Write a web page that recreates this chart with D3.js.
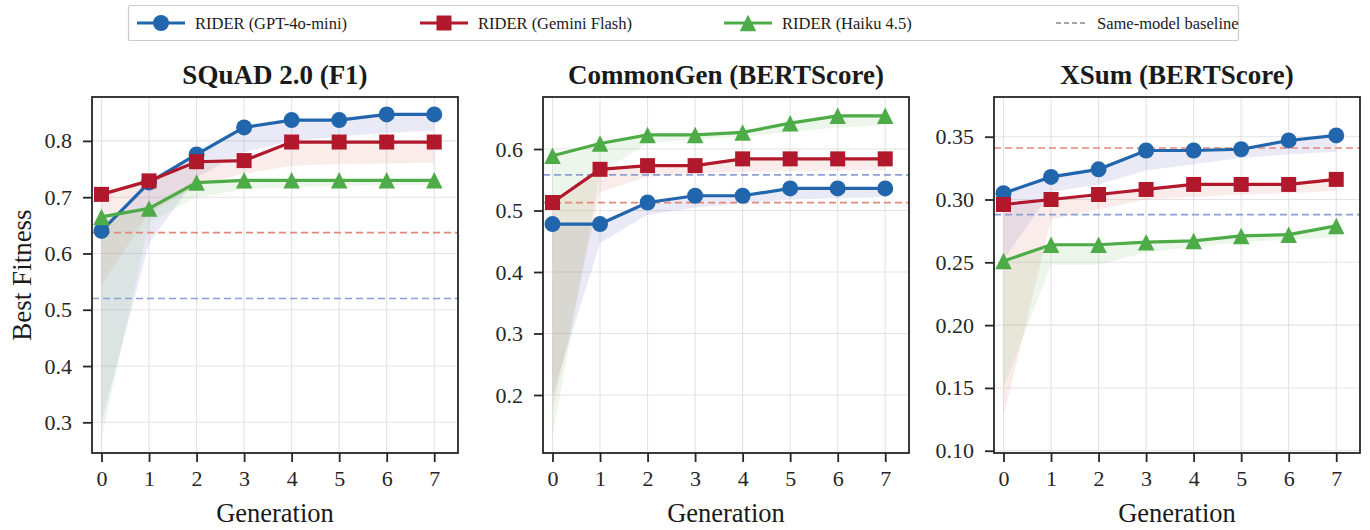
<!DOCTYPE html>
<html>
<head>
<meta charset="utf-8">
<script src="https://d3js.org/d3.v7.min.js"></script>
<style>
  body { margin: 0; background: #fff; }
  svg text { font-family: "Liberation Serif", "DejaVu Serif", serif; }
</style>
</head>
<body>
<div id="chart"></div>
<script>
// Generations on the x axis
const generations = [0, 1, 2, 3, 4, 5, 6, 7];
const modelNames = ["RIDER (GPT-4o-mini)", "RIDER (Gemini Flash)", "RIDER (Haiku 4.5)"];
const modelColors = ["#2166ac", "#b2182b", "#4dac47"];
const bandColors = ["#7a7fc8", "#e08a7a", "#8cc97f"];
const panelTitles = ["SQuAD 2.0 (F1)", "CommonGen (BERTScore)", "XSum (BERTScore)"];

// SQuAD 2.0 best fitness per generation and lower edge of the shaded band
const squadGpt = [0.640, 0.726, 0.776, 0.824, 0.837, 0.837, 0.847, 0.847];
const squadGemini = [0.705, 0.729, 0.763, 0.765, 0.798, 0.798, 0.798, 0.798];
const squadHaiku = [0.665, 0.680, 0.726, 0.730, 0.730, 0.730, 0.730, 0.730];
const squadGptLow = [0.300, 0.618, 0.735, 0.780, 0.800, 0.808, 0.814, 0.818];
const squadGeminiLow = [0.545, 0.672, 0.720, 0.742, 0.756, 0.759, 0.760, 0.761];
const squadHaikuLow = [0.271, 0.655, 0.700, 0.714, 0.718, 0.720, 0.721, 0.722];
const squadBaselines = [0.520, 0.637];

// CommonGen
const commongenGpt = [0.478, 0.478, 0.513, 0.524, 0.524, 0.536, 0.536, 0.536];
const commongenGemini = [0.513, 0.567, 0.573, 0.573, 0.584, 0.584, 0.584, 0.584];
const commongenHaiku = [0.589, 0.609, 0.623, 0.623, 0.627, 0.642, 0.654, 0.654];
const commongenGptLow = [0.200, 0.447, 0.493, 0.505, 0.512, 0.518, 0.520, 0.522];
const commongenGeminiLow = [0.175, 0.530, 0.555, 0.560, 0.563, 0.564, 0.565, 0.566];
const commongenHaikuLow = [0.132, 0.560, 0.610, 0.616, 0.620, 0.628, 0.635, 0.639];
const commongenBaselines = [0.558, 0.513];

// XSum
const xsumGpt = [0.305, 0.318, 0.324, 0.339, 0.339, 0.340, 0.347, 0.351];
const xsumGemini = [0.296, 0.300, 0.304, 0.308, 0.312, 0.312, 0.312, 0.316];
const xsumHaiku = [0.251, 0.264, 0.264, 0.266, 0.267, 0.271, 0.272, 0.279];
const xsumGptLow = [0.252, 0.306, 0.312, 0.323, 0.328, 0.333, 0.336, 0.338];
const xsumGeminiLow = [0.127, 0.284, 0.292, 0.300, 0.302, 0.304, 0.305, 0.307];
const xsumHaikuLow = [0.150, 0.248, 0.248, 0.258, 0.262, 0.266, 0.268, 0.270];
const xsumBaselines = [0.288, 0.341];

// y tick values for each panel
const squadTicks = [0.3, 0.4, 0.5, 0.6, 0.7, 0.8];
const commongenTicks = [0.2, 0.3, 0.4, 0.5, 0.6];
const xsumTicks = [0.10, 0.15, 0.20, 0.25, 0.30, 0.35];

const panels = [
  { title: panelTitles[0], best: [squadGpt, squadGemini, squadHaiku],
    low: [squadGptLow, squadGeminiLow, squadHaikuLow], base: squadBaselines,
    domain: [0.2455, 0.878], ticks: squadTicks, fmt: ".1f", left: 92 },
  { title: panelTitles[1], best: [commongenGpt, commongenGemini, commongenHaiku],
    low: [commongenGptLow, commongenGeminiLow, commongenHaikuLow], base: commongenBaselines,
    domain: [0.1057, 0.6846], ticks: commongenTicks, fmt: ".1f", left: 543 },
  { title: panelTitles[2], best: [xsumGpt, xsumGemini, xsumHaiku],
    low: [xsumGptLow, xsumGeminiLow, xsumHaikuLow], base: xsumBaselines,
    domain: [0.0982, 0.3816], ticks: xsumTicks, fmt: ".2f", left: 994 }
];

const W = 1370, H = 530;
const plotW = 366, plotTop = 97, plotBottom = 453;
const serif = "Liberation Serif";

const svg = d3.select("#chart").append("svg")
  .attr("width", W).attr("height", H);

// marker shapes like matplotlib o, s, ^
const markerPath = (i, s) => {
  const h = s / 2;
  if (i === 0) return `M${h},0A${h},${h} 0 1,1 ${-h},0A${h},${h} 0 1,1 ${h},0Z`;
  if (i === 1) return `M${-h},${-h}H${h}V${h}H${-h}Z`;
  return `M0,${-h}L${h},${h}L${-h},${h}Z`;
};
const markerSize = [16, 15, 16.5];

panels.forEach(p => {
  const x = d3.scaleLinear().domain([-0.2, 7.5]).range([p.left, p.left + plotW]);
  const y = d3.scaleLinear().domain(p.domain).range([plotBottom, plotTop]);
  const g = svg.append("g");

  // grid
  g.append("g").selectAll("line").data(generations).join("line")
    .attr("x1", d => x(d)).attr("x2", d => x(d))
    .attr("y1", plotTop).attr("y2", plotBottom)
    .attr("stroke", "#e3e3e3").attr("stroke-width", 1.1);
  g.append("g").selectAll("line").data(p.ticks).join("line")
    .attr("x1", p.left).attr("x2", p.left + plotW)
    .attr("y1", d => y(d)).attr("y2", d => y(d))
    .attr("stroke", "#e3e3e3").attr("stroke-width", 1.1);

  // shaded bands
  p.best.forEach((vals, i) => {
    const area = d3.area()
      .x((d, k) => x(generations[k]))
      .y0((d, k) => y(p.low[i][k]))
      .y1(d => y(d));
    g.append("path").datum(vals)
      .attr("d", area)
      .attr("fill", bandColors[i]).attr("fill-opacity", 0.16);
  });

  // same-model baselines (GPT-4o-mini, Gemini Flash)
  p.base.forEach((b, i) => {
    g.append("line")
      .attr("x1", p.left).attr("x2", p.left + plotW)
      .attr("y1", y(b)).attr("y2", y(b))
      .attr("stroke", i === 0 ? "#8c9fd6" : "#e3897c")
      .attr("stroke-width", 1.7)
      .attr("stroke-dasharray", "7,4");
  });

  // lines and markers
  p.best.forEach((vals, i) => {
    const line = d3.line().x((d, k) => x(generations[k])).y(d => y(d));
    g.append("path").datum(vals)
      .attr("d", line).attr("fill", "none")
      .attr("stroke", modelColors[i]).attr("stroke-width", 3.2);
    g.append("g").selectAll("path").data(vals).join("path")
      .attr("transform", (d, k) => `translate(${x(generations[k])},${y(d)})`)
      .attr("d", markerPath(i, markerSize[i]))
      .attr("fill", modelColors[i]);
  });

  // frame
  g.append("rect")
    .attr("x", p.left).attr("y", plotTop)
    .attr("width", plotW).attr("height", plotBottom - plotTop)
    .attr("fill", "none").attr("stroke", "#262626").attr("stroke-width", 1.8);

  // axes
  const xAxis = d3.axisBottom(x).tickValues(generations).tickSize(9).tickPadding(11);
  const gx = g.append("g").attr("transform", `translate(0,${plotBottom})`).call(xAxis);
  const yAxis = d3.axisLeft(y).tickValues(p.ticks).tickSize(9).tickPadding(11)
    .tickFormat(d3.format(p.fmt));
  const gy = g.append("g").attr("transform", `translate(${p.left},0)`).call(yAxis);
  [gx, gy].forEach(a => {
    a.attr("font-family", serif).attr("font-size", 22);
    a.select(".domain").remove();
    a.selectAll(".tick line").attr("stroke", "#262626").attr("stroke-width", 1.8);
    a.selectAll(".tick text").attr("fill", "#262626");
  });
  gx.selectAll(".tick text").attr("dy", "0.6em");

  // title and x label
  g.append("text")
    .attr("x", p.left + plotW / 2).attr("y", 84)
    .attr("text-anchor", "middle")
    .attr("font-family", serif).attr("font-size", 27).attr("font-weight", "bold")
    .attr("fill", "#1a1a1a")
    .text(p.title);
  g.append("text")
    .attr("x", p.left + plotW / 2).attr("y", 522)
    .attr("text-anchor", "middle")
    .attr("font-family", serif).attr("font-size", 26.5).attr("fill", "#1a1a1a")
    .text("Generation");
});

// y label
svg.append("text")
  .attr("transform", "translate(31,275) rotate(-90)")
  .attr("text-anchor", "middle")
  .attr("font-family", serif).attr("font-size", 27).attr("fill", "#1a1a1a")
  .text("Best Fitness");

// legend
const legend = svg.append("g");
legend.append("rect")
  .attr("x", 128.5).attr("y", 5.5).attr("width", 1110).attr("height", 35)
  .attr("rx", 2).attr("fill", "#fff").attr("stroke", "#cccccc").attr("stroke-width", 1.2);
const legendX = [161, 444, 748];
modelNames.forEach((name, i) => {
  const cx = legendX[i];
  legend.append("line")
    .attr("x1", cx - 24).attr("x2", cx + 24).attr("y1", 23).attr("y2", 23)
    .attr("stroke", modelColors[i]).attr("stroke-width", 3.2);
  legend.append("path")
    .attr("transform", `translate(${cx},23)`)
    .attr("d", markerPath(i, markerSize[i]))
    .attr("fill", modelColors[i]);
  legend.append("text")
    .attr("x", cx + 34).attr("y", 29)
    .attr("font-family", serif).attr("font-size", 16.5).attr("fill", "#1a1a1a")
    .text(name);
});
legend.append("line")
  .attr("x1", 1056).attr("x2", 1088).attr("y1", 23).attr("y2", 23)
  .attr("stroke", "#888").attr("stroke-width", 1.7).attr("stroke-dasharray", "5,3");
legend.append("text")
  .attr("x", 1097).attr("y", 29)
  .attr("font-family", serif).attr("font-size", 16.5).attr("fill", "#1a1a1a")
  .text("Same-model baseline");
</script>
</body>
</html>
